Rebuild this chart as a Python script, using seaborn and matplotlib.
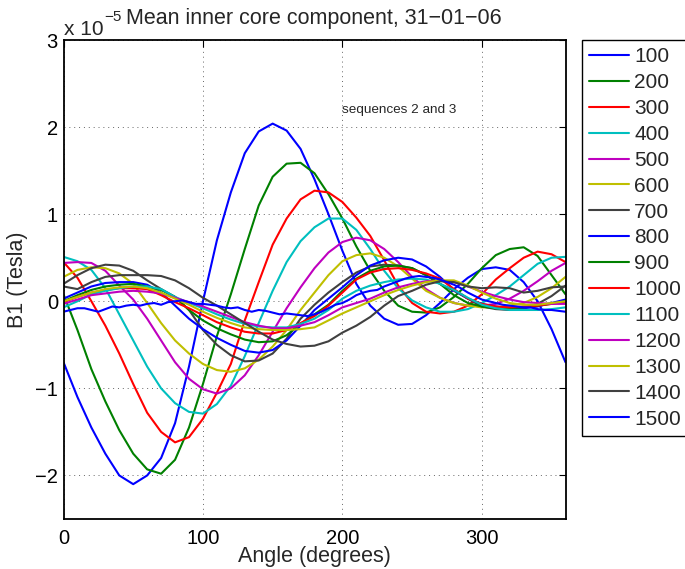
import matplotlib
matplotlib.use("Agg")
import matplotlib.pyplot as plt
import numpy as np
import pandas as pd
import seaborn as sns

# ---------------- data (values in units of 1e-5 Tesla) ----------------
angles = list(range(0, 361, 10))
angles_fine = list(range(0, 361, 5))

labels = ["100", "200", "300", "400", "500", "600", "700", "800",
          "900", "1000", "1100", "1200", "1300", "1400", "1500"]

s100 = [-0.70, -1.10, -1.45, -1.75, -2.00, -2.10, -2.00, -1.80, -1.40, -0.75,
        0.00, 0.70, 1.25, 1.70, 1.95, 2.04, 1.96, 1.75, 1.40, 1.00,
        0.58, 0.20, -0.05, -0.20, -0.27, -0.26, -0.16, -0.02, 0.14, 0.27,
        0.37, 0.39, 0.36, 0.22, 0.00, -0.32, -0.70]
s200 = [0.08, -0.33, -0.78, -1.15, -1.48, -1.75, -1.93, -1.98, -1.82, -1.45,
        -0.95, -0.40, 0.08, 0.60, 1.10, 1.43, 1.58, 1.59, 1.47, 1.23,
        0.95, 0.63, 0.35, 0.12, -0.05, -0.12, -0.13, -0.07, 0.05, 0.20,
        0.38, 0.53, 0.60, 0.62, 0.52, 0.30, 0.08]
s300 = [0.45, 0.27, 0.00, -0.28, -0.60, -0.95, -1.28, -1.50, -1.62, -1.56,
        -1.35, -1.05, -0.72, -0.22, 0.22, 0.65, 0.95, 1.17, 1.27, 1.25,
        1.14, 0.96, 0.75, 0.47, 0.18, -0.02, -0.12, -0.14, -0.12, -0.05,
        0.08, 0.25, 0.38, 0.50, 0.57, 0.54, 0.45]
s400 = [0.51, 0.46, 0.36, 0.15, -0.15, -0.45, -0.75, -1.00, -1.17, -1.27,
        -1.29, -1.18, -0.97, -0.63, -0.25, 0.12, 0.45, 0.69, 0.85, 0.95,
        0.95, 0.82, 0.60, 0.35, 0.15, 0.01, -0.07, -0.12, -0.12, -0.09,
        -0.02, 0.07, 0.17, 0.30, 0.43, 0.50, 0.51]
s500 = [0.44, 0.45, 0.44, 0.35, 0.18, 0.02, -0.20, -0.45, -0.70, -0.89,
        -1.01, -1.06, -1.00, -0.85, -0.62, -0.35, -0.08, 0.16, 0.38, 0.56,
        0.68, 0.73, 0.70, 0.60, 0.45, 0.28, 0.14, 0.04, -0.02, -0.05,
        -0.05, -0.03, 0.03, 0.12, 0.23, 0.35, 0.44]
s600 = [0.28, 0.36, 0.39, 0.38, 0.32, 0.20, -0.02, -0.25, -0.45, -0.60,
        -0.72, -0.79, -0.81, -0.77, -0.67, -0.52, -0.33, -0.10, 0.10, 0.30,
        0.46, 0.53, 0.55, 0.50, 0.40, 0.26, 0.12, 0.04, -0.02, -0.05,
        -0.07, -0.07, -0.05, -0.02, 0.05, 0.15, 0.28]
s700 = [0.20, 0.30, 0.38, 0.42, 0.41, 0.35, 0.24, 0.14, 0.05, -0.10,
        -0.33, -0.50, -0.62, -0.69, -0.68, -0.60, -0.43, -0.20, -0.04, 0.10,
        0.22, 0.33, 0.40, 0.42, 0.41, 0.38, 0.30, 0.20, 0.12, 0.03,
        -0.06, -0.09, -0.10, -0.08, -0.03, 0.06, 0.18]
s800 = [0.03, 0.10, 0.17, 0.21, 0.22, 0.22, 0.19, 0.10, -0.05, -0.20,
        -0.32, -0.42, -0.50, -0.57, -0.59, -0.56, -0.45, -0.28, -0.10, 0.03,
        0.16, 0.30, 0.41, 0.47, 0.50, 0.48, 0.40, 0.28, 0.13, 0.03,
        -0.03, -0.06, -0.08, -0.08, -0.06, -0.02, 0.02]
s900 = [0.00, 0.07, 0.13, 0.17, 0.19, 0.20, 0.17, 0.13, 0.05, -0.10,
        -0.22, -0.31, -0.38, -0.44, -0.47, -0.46, -0.39, -0.26, -0.15, -0.04,
        0.12, 0.26, 0.35, 0.40, 0.41, 0.38, 0.30, 0.20, 0.07, -0.02,
        -0.06, -0.08, -0.08, -0.07, -0.05, -0.03, 0.00]
s1000 = [-0.01, 0.05, 0.10, 0.13, 0.15, 0.15, 0.14, 0.07, -0.01, -0.08,
         -0.16, -0.24, -0.30, -0.35, -0.37, -0.37, -0.33, -0.25, -0.17, -0.05,
         0.10, 0.25, 0.33, 0.37, 0.38, 0.36, 0.32, 0.26, 0.14, 0.03,
         -0.03, -0.06, -0.07, -0.06, -0.05, -0.03, -0.01]
s1100 = [-0.07, 0.00, 0.08, 0.12, 0.15, 0.17, 0.17, 0.14, 0.05, -0.02,
         -0.08, -0.15, -0.21, -0.26, -0.29, -0.30, -0.30, -0.26, -0.20, -0.10,
         0.03, 0.12, 0.18, 0.22, 0.25, 0.26, 0.25, 0.20, 0.13, 0.04,
         -0.04, -0.08, -0.10, -0.10, -0.10, -0.09, -0.07]
s1200 = [-0.03, 0.02, 0.07, 0.09, 0.11, 0.12, 0.11, 0.09, 0.04, -0.01,
         -0.06, -0.12, -0.18, -0.24, -0.28, -0.31, -0.31, -0.28, -0.24, -0.16,
         -0.07, -0.02, 0.03, 0.10, 0.16, 0.20, 0.23, 0.24, 0.22, 0.17,
         0.11, 0.06, 0.02, -0.01, -0.02, -0.03, -0.03]
s1300 = [0.00, 0.05, 0.10, 0.14, 0.16, 0.17, 0.15, 0.10, 0.03, -0.04,
         -0.12, -0.19, -0.25, -0.30, -0.32, -0.33, -0.33, -0.32, -0.30, -0.22,
         -0.14, -0.07, 0.00, 0.07, 0.13, 0.18, 0.22, 0.24, 0.24, 0.18,
         0.10, 0.03, -0.02, -0.04, -0.04, -0.02, 0.00]
s1400 = [0.17, 0.14, 0.22, 0.28, 0.30, 0.30, 0.30, 0.29, 0.24, 0.15,
         0.04, -0.05, -0.15, -0.25, -0.35, -0.44, -0.49, -0.52, -0.51, -0.46,
         -0.36, -0.28, -0.18, -0.05, 0.06, 0.12, 0.19, 0.23, 0.22, 0.17,
         0.15, 0.16, 0.15, 0.10, 0.12, 0.16, 0.17]
s1500 = [-0.12, -0.10, -0.08, -0.08, -0.10, -0.12, -0.09, -0.06, -0.07, -0.05,
         -0.04, -0.05, -0.03, -0.02, -0.04, -0.01, 0.00, 0.01, -0.01, -0.03,
         -0.03, -0.04, -0.05, -0.07, -0.08, -0.07, -0.10, -0.12, -0.10, -0.11,
         -0.13, -0.15, -0.14, -0.15, -0.16, -0.17, -0.15, -0.12, -0.08, -0.04,
         -0.02, 0.02, 0.07, 0.10, 0.12, 0.13, 0.17, 0.20, 0.23, 0.26,
         0.28, 0.29, 0.28, 0.27, 0.25, 0.22, 0.19, 0.15, 0.10, 0.06,
         0.02, 0.00, -0.02, -0.04, -0.05, -0.06, -0.07, -0.07, -0.09, -0.10,
         -0.10, -0.11, -0.12]

series = [s100, s200, s300, s400, s500, s600, s700, s800,
          s900, s1000, s1100, s1200, s1300, s1400, s1500]

title = "Mean inner core component, 31\u221201\u221206"
xlabel = "Angle (degrees)"
ylabel = "B1 (Tesla)"
note = "sequences 2 and 3"
exponent = "\u22125"

# MATLAB classic colour order
matlab_colors = [(0, 0, 1), (0, 0.5, 0), (1, 0, 0), (0, 0.75, 0.75),
                 (0.75, 0, 0.75), (0.75, 0.75, 0), (0.25, 0.25, 0.25)]
palette = [matlab_colors[i % 7] for i in range(len(labels))]

# ---------------- long-form table ----------------
rows = []
for lab, vals in zip(labels, series):
    xs = angles_fine if len(vals) == len(angles_fine) else angles
    for a, v in zip(xs, vals):
        rows.append((lab, a, v))
df = pd.DataFrame(rows, columns=["label", "angle", "value"])

# ---------------- plot ----------------
sns.set_style("white")
plt.rcParams['font.family'] = ['Liberation Sans', 'DejaVu Sans']
plt.rcParams['axes.unicode_minus'] = True

W, H = 685, 569
fig = plt.figure(figsize=(W / 100, H / 100), dpi=100)
ax = fig.add_axes([63.5 / W, 1 - 519 / H, 502 / W, 479 / H])

sns.lineplot(data=df, x="angle", y="value", hue="label", hue_order=labels,
             palette=palette, linewidth=1.5, estimator=None, sort=False,
             legend=False, ax=ax)

ax.set_xlim(0, 360)
ax.set_ylim(-2.5, 3)
ax.set_xticks([0, 100, 200, 300])
ax.set_yticks([-2, -1, 0, 1, 2, 3])
ax.grid(True, linestyle=(0, (1, 4)), color='0.4', linewidth=0.7)
ax.tick_params(direction='in', top=True, right=True, length=5, width=0.8,
               labelsize=14.5, colors='black')
ax.tick_params(axis='x', pad=7)
ax.tick_params(axis='y', pad=4)
for sp in ax.spines.values():
    sp.set_visible(True)
    sp.set_color('black')
    sp.set_linewidth(1.3)

ax.set_xlabel(xlabel, fontsize=15.5, labelpad=-1)
ax.set_ylabel(ylabel, fontsize=15.5, labelpad=5)

ax.text(200, 2.2, note, fontsize=9.7, va='center', ha='left')

fig.text(314 / W, 1 - 24 / H, title, ha='center', va='baseline', fontsize=15.5)
fig.text(64 / W, 1 - 35 / H, "x 10", ha='left', va='baseline', fontsize=15)
fig.text(104 / W, 1 - 21 / H, exponent, ha='left', va='baseline', fontsize=11)

handles = ax.get_lines()[:len(labels)]
leg = fig.legend(handles, labels, loc='upper left',
                 bbox_to_anchor=(582 / W, 1 - 40 / H), frameon=True,
                 fancybox=False, shadow=False, edgecolor='black',
                 fontsize=15, handlelength=1.9, handletextpad=0.25,
                 borderpad=0.35, labelspacing=0.33, borderaxespad=0)
leg.get_frame().set_linewidth(1.0)
leg.get_frame().set_facecolor('white')
leg.get_frame().set_alpha(1)

fig.savefig("out.png", dpi=100, facecolor='white')
